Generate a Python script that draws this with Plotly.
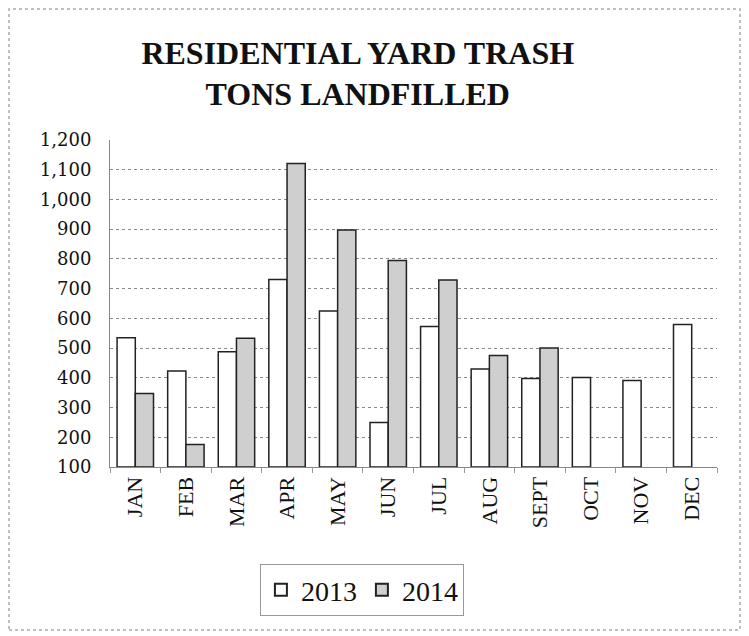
import plotly.graph_objects as go

months = ["JAN", "FEB", "MAR", "APR", "MAY", "JUN", "JUL", "AUG", "SEPT", "OCT", "NOV", "DEC"]
tons_2013 = [535, 423, 488, 731, 625, 250, 573, 430, 398, 401, 391, 579]
tons_2014 = [347, 176, 533, 1121, 897, 795, 729, 475, 500, None, None, None]
y_ticks = [100, 200, 300, 400, 500, 600, 700, 800, 900, 1000, 1100, 1200]
y_tick_labels = ["100", "200", "300", "400", "500", "600", "700", "800", "900", "1,000", "1,100", "1,200"]

serif = "Liberation Serif"
wide_serif = "DejaVu Serif"

# page body has an 8px margin, so the figure is 8px smaller than the window
W, H = 741, 628
L, R, T, B = 102, 32, 132, 169
pw, ph = W - L - R, H - T - B

fig = go.Figure()
fig.add_trace(go.Bar(
    name="2013", x=months, y=[v - 100 for v in tons_2013], base=100,
    marker=dict(color="white", line=dict(color="#222222", width=1.5)),
))
fig.add_trace(go.Bar(
    name="2014", x=months, y=[(v - 100) if v is not None else None for v in tons_2014], base=100,
    marker=dict(color="#cfcfcf", line=dict(color="#222222", width=1.5)),
))

fig.update_layout(
    width=W, height=H,
    paper_bgcolor="white", plot_bgcolor="white",
    margin=dict(l=L, r=R, t=T, b=B),
    barmode="group", bargap=0.28, bargroupgap=0.0,
    font=dict(family=serif, color="#111111"),
    title=dict(
        text="<b>RESIDENTIAL YARD TRASH<br>TONS LANDFILLED</b>",
        x=0.472, xanchor="center", y=0.911, yanchor="middle",
        font=dict(family=serif, size=32, color="#111111"),
    ),
    xaxis=dict(
        tickangle=-90, tickfont=dict(family=serif, size=22, color="#111111"),
        showline=True, linecolor="#888888", linewidth=1,
        ticks="outside", tickson="boundaries", ticklen=5, tickcolor="#999999",
        showgrid=False,
    ),
    yaxis=dict(
        range=[100, 1200], tickvals=y_ticks, ticktext=y_tick_labels,
        tickfont=dict(family=wide_serif, size=18, color="#111111"),
        showgrid=True, gridcolor="#8a8a8a", griddash="dot", gridwidth=1,
        showline=True, linecolor="#888888", linewidth=1,
        ticks="", zeroline=False, ticklabelstandoff=14,
    ),
    legend=dict(
        orientation="h", x=0.415, xanchor="center", y=-0.376, yanchor="middle",
        font=dict(family=serif, size=28, color="#111111"),
        bordercolor="#999999", borderwidth=1, bgcolor="white",
        itemwidth=30, itemsizing="constant",
    ),
    shapes=[dict(type="rect", xref="paper", yref="paper",
                 x0=(1 - L) / pw, x1=(732 - L) / pw,
                 y0=(H - B - 622) / ph, y1=(H - B - 1) / ph,
                 line=dict(color="#aaaaaa", width=1.5, dash="dot"))],
)

fig.write_html("out.html")
